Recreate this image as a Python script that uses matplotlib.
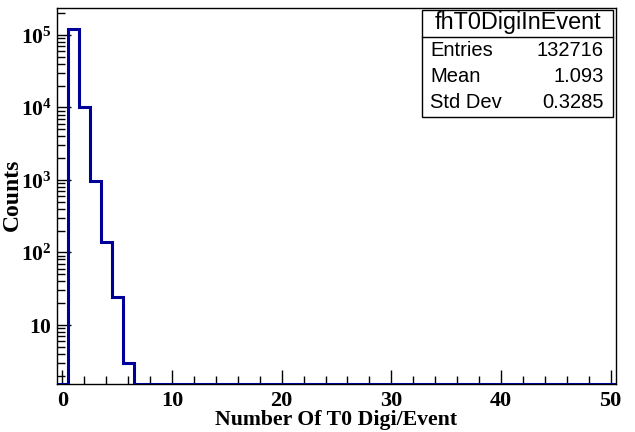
import matplotlib
matplotlib.use("Agg")
import matplotlib.pyplot as plt
from matplotlib.patches import Rectangle
from matplotlib.ticker import FixedLocator, FixedFormatter, MultipleLocator
import numpy as np

# ---- data ----
bin_edges_lo = -0.5
bin_edges_hi = 50.5
counts = [0, 121581, 10000, 970, 138, 24, 3, 0, 0, 0,
          0, 0, 0, 0, 0, 0, 0, 0, 0, 0,
          0, 0, 0, 0, 0, 0, 0, 0, 0, 0,
          0, 0, 0, 0, 0, 0, 0, 0, 0, 0,
          0, 0, 0, 0, 0, 0, 0, 0, 0, 0,
          0]
hist_name = "fhT0DigiInEvent"
stat_labels = ["Entries", "Mean", "Std Dev"]
stat_values = ["132716", "1.093", "0.3285"]
x_ticks = [0, 10, 20, 30, 40, 50]
y_ticks = [10, 100, 1000, 10000, 100000]
y_tick_labels = [r"$\mathbf{10}$", r"$\mathbf{10^{2}}$", r"$\mathbf{10^{3}}$",
                 r"$\mathbf{10^{4}}$", r"$\mathbf{10^{5}}$"]
x_title = "Number Of T0 Digi/Event"
y_title = "Counts"

plt.rcParams['mathtext.fontset'] = 'custom'
plt.rcParams['mathtext.rm'] = 'Liberation Serif:bold'
plt.rcParams['mathtext.bf'] = 'Liberation Serif:bold'
plt.rcParams['mathtext.it'] = 'Liberation Serif:bold'

W, H = 635, 432
fig = plt.figure(figsize=(W / 100, H / 100), dpi=100)
L, R, T, B = 57, 616, 8, 384
ax = fig.add_axes([L / W, 1 - B / H, (R - L) / W, (B - T) / H])

ymin, ymax = 1.53, 2.36e5
edges = np.linspace(bin_edges_lo, bin_edges_hi, len(counts) + 1)
vals = np.array(counts, dtype=float)
vals_plot = np.where(vals > 0, vals, ymin)
ax.stairs(vals_plot, edges, baseline=ymin, color='#000099', linewidth=2.2, zorder=3)

ax.set_yscale('log')
ax.set_xlim(bin_edges_lo, bin_edges_hi)
ax.set_ylim(ymin, ymax)

ax.xaxis.set_major_locator(FixedLocator(x_ticks))
ax.xaxis.set_minor_locator(MultipleLocator(2))
ax.yaxis.set_major_locator(FixedLocator(y_ticks))
ax.yaxis.set_major_formatter(FixedFormatter(y_tick_labels))
minor_y = [m * 10 ** e for e in range(0, 6) for m in range(2, 10)]
ax.yaxis.set_minor_locator(FixedLocator(minor_y))
ax.yaxis.set_minor_formatter(FixedFormatter([""] * len(minor_y)))

ax.tick_params(which='both', direction='in', top=False, right=False, color='black')
ax.tick_params(which='major', length=10, width=1)
ax.tick_params(which='minor', length=6, width=1)
ax.tick_params(axis='x', which='major', pad=5)
ax.tick_params(axis='y', which='major', pad=4)
for lab in ax.get_xticklabels():
    lab.set_fontfamily('Liberation Serif')
    lab.set_fontweight('bold')
    lab.set_fontsize(16)
for lab in ax.get_yticklabels():
    lab.set_fontsize(15.5)
for s in ax.spines.values():
    s.set_linewidth(1)

fig.text((L + R) / 2 / W, 1 - 420 / H, x_title, ha='center', va='center',
         fontfamily='Liberation Serif', fontweight='bold', fontsize=15.7)
fig.text(12 / W, 1 - 195 / H, y_title, ha='center', va='center', rotation=90,
         fontfamily='Liberation Serif', fontweight='bold', fontsize=17)

# stats box
bx0, by0, bx1, by1 = 422, 10, 613, 117
sep = 37
fig.patches.append(Rectangle((bx0 / W, 1 - by1 / H), (bx1 - bx0) / W, (by1 - by0) / H,
                             transform=fig.transFigure, fill=True, facecolor='white',
                             edgecolor='black', linewidth=1, zorder=5))
fig.add_artist(plt.Line2D([bx0 / W, bx1 / W], [1 - sep / H, 1 - sep / H],
                          transform=fig.transFigure, color='black', linewidth=1, zorder=6))
fig.text((bx0 + bx1) / 2 / W, 1 - 23 / H, hist_name, ha='center', va='center',
         fontfamily='Liberation Sans', fontsize=16.8, zorder=7)
row_y = [50, 77, 103]
for lab, val, yy in zip(stat_labels, stat_values, row_y):
    fig.text((bx0 + 8) / W, 1 - yy / H, lab, ha='left', va='center',
             fontfamily='Liberation Sans', fontsize=14.5, zorder=7)
    fig.text((bx1 - 9) / W, 1 - yy / H, val, ha='right', va='center',
             fontfamily='Liberation Sans', fontsize=14.5, zorder=7)

fig.savefig('out.png', dpi=100)
